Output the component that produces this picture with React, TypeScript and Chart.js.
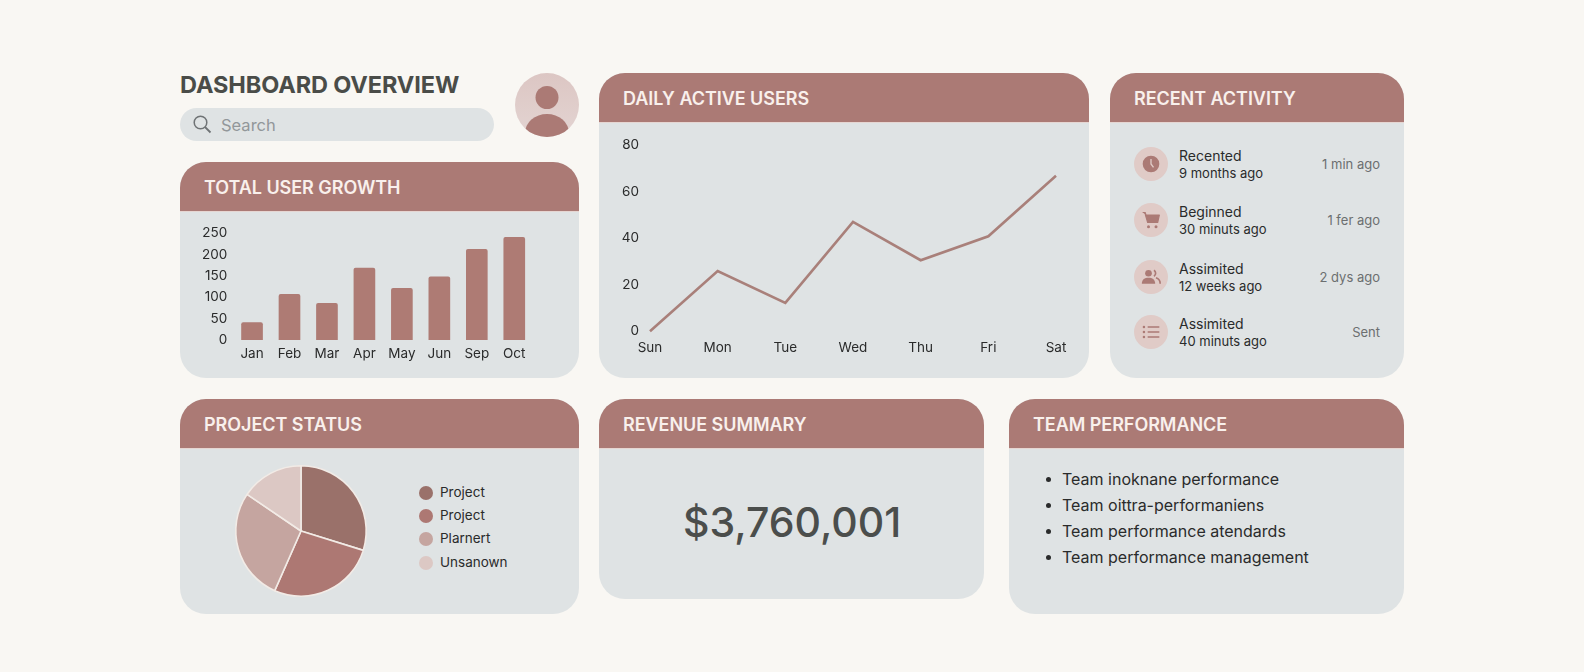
import { useEffect, useRef, type CSSProperties, type ReactNode } from 'react';
import { Chart, registerables } from 'chart.js';

Chart.register(...registerables);

const FONT = 'Inter, "Noto Sans", sans-serif';
const ROSE = '#ab7a75';
const PANEL = '#dfe3e4';
const INK = '#2a2b2b';

const growthMonths = ['Jan', 'Feb', 'Mar', 'Apr', 'May', 'Jun', 'Sep', 'Oct'];
const growthValues = [41, 107, 86, 168, 121, 148, 212, 240];

const activeDays = ['Sun', 'Mon', 'Tue', 'Wed', 'Thu', 'Fri', 'Sat'];
const activeValues = [0, 25.9, 12.2, 47, 30.5, 40.8, 66.8];

const statusLabels = ['Project', 'Project', 'Plarnert', 'Unsanown'];
const statusValues = [29.8, 26.8, 27.9, 15.5];
const statusColors = ['#9a716a', '#ad7873', '#c5a5a0', '#dcc8c4'];

const activityTitles = ['Recented', 'Beginned', 'Assimited', 'Assimited'];
const activityAges = ['9 months ago', '30 minuts ago', '12 weeks ago', '40 minuts ago'];
const activityNotes = ['1 min ago', '1 fer ago', '2 dys ago', 'Sent'];

const teamItems = [
  'Team inoknane performance',
  'Team oittra-performaniens',
  'Team performance atendards',
  'Team performance management',
];

function Label({ x, y, size, color = INK, weight = 400, right, spacing, children }: {
  x: number; y: number; size: number; color?: string; weight?: number; right?: boolean; spacing?: number; children: ReactNode;
}) {
  const style: CSSProperties = {
    position: 'absolute',
    top: y,
    fontSize: size,
    fontWeight: weight,
    color,
    letterSpacing: spacing,
    lineHeight: 1,
    whiteSpace: 'nowrap',
    transform: 'translateY(-50%)',
  };
  if (right) style.right = 1584 - x;
  else style.left = x;
  return <div style={style}>{children}</div>;
}

function Card({ x, y, w, h, title }: { x: number; y: number; w: number; h: number; title: string }) {
  return (
    <>
      <div style={{ position: 'absolute', left: x, top: y, width: w, height: h, background: PANEL, borderRadius: 26, overflow: 'hidden' }}>
        <div style={{ height: 49, background: ROSE, borderBottom: '1px solid #e6d6d2' }} />
      </div>
      <Label x={x + 24} y={y + 26} size={18} weight={600} color="#f9f0ec" spacing={-0.05}>{title}</Label>
    </>
  );
}

function useChart(build: (canvas: HTMLCanvasElement) => Chart) {
  const ref = useRef<HTMLCanvasElement>(null);
  useEffect(() => {
    if (!ref.current) return;
    const chart = build(ref.current);
    return () => chart.destroy();
  }, []);
  return ref;
}

function Box({ x, y, w, h, canvasRef }: { x: number; y: number; w: number; h: number; canvasRef: React.RefObject<HTMLCanvasElement | null> }) {
  return (
    <div style={{ position: 'absolute', left: x, top: y, width: w, height: h }}>
      <canvas ref={canvasRef} />
    </div>
  );
}

function GrowthChart() {
  const ref = useChart((canvas) => new Chart(canvas, {
    type: 'bar',
    data: {
      labels: growthMonths,
      datasets: [{ data: growthValues, backgroundColor: '#ae7b74', barThickness: 21, borderRadius: 2 }],
    },
    options: {
      animation: false,
      responsive: true,
      maintainAspectRatio: false,
      layout: { padding: { top: 7, right: 7 } },
      plugins: { legend: { display: false }, tooltip: { enabled: false } },
      scales: {
        x: {
          grid: { display: false, drawTicks: false },
          border: { display: false },
          ticks: { color: INK, padding: 6, maxRotation: 0, font: { family: FONT, size: 13.5 } },
          afterFit: (s: any) => { s.height = 28; },
        },
        y: {
          min: 0,
          max: 250,
          grid: { display: false, drawTicks: false },
          border: { display: false },
          ticks: { stepSize: 50, color: INK, padding: 6, font: { family: FONT, size: 13.5 } },
          afterFit: (s: any) => { s.width = 43.3; },
        },
      },
    },
  }));
  return <Box x={190} y={219} w={350} h={149} canvasRef={ref} />;
}

function ActiveChart() {
  const ref = useChart((canvas) => new Chart(canvas, {
    type: 'line',
    data: {
      labels: activeDays,
      datasets: [{ data: activeValues, borderColor: '#a9807a', borderWidth: 2.6, pointRadius: 0, tension: 0, clip: false }],
    },
    options: {
      animation: false,
      responsive: true,
      maintainAspectRatio: false,
      layout: { padding: { top: 10, right: 29 } },
      plugins: { legend: { display: false }, tooltip: { enabled: false } },
      scales: {
        x: {
          grid: { display: false, drawTicks: false },
          border: { display: false },
          ticks: { color: INK, padding: 9, maxRotation: 0, font: { family: FONT, size: 13.5 } },
          afterFit: (s: any) => { s.height = 34.3; },
        },
        y: {
          min: 0,
          max: 80,
          grid: { display: false, drawTicks: false },
          border: { display: false },
          ticks: { stepSize: 20, color: INK, padding: 11, font: { family: FONT, size: 13.5 } },
          afterFit: (s: any) => { s.width = 45; },
        },
      },
    },
  }));
  return <Box x={605} y={125.5} w={480} h={239.5} canvasRef={ref} />;
}

function StatusChart() {
  const ref = useChart((canvas) => new Chart(canvas, {
    type: 'pie',
    data: {
      labels: statusLabels,
      datasets: [{ data: statusValues, backgroundColor: statusColors, borderColor: '#f2ebe6', borderWidth: 1.6 }],
    },
    options: {
      animation: false,
      responsive: true,
      maintainAspectRatio: false,
      layout: { padding: 4 },
      plugins: { legend: { display: false }, tooltip: { enabled: false } },
    },
  }));
  return <Box x={231} y={460.5} w={140} h={140} canvasRef={ref} />;
}

const iconColor = '#ab7a75';
const activityIcons = [
  <>
    <circle cx="12" cy="12" r="10" fill={iconColor} />
    <path d="M12 6v6l3 4" fill="none" stroke="#e0cbc7" strokeWidth="1.6" />
  </>,
  <>
    <path d="M2 3h3l1 3h16l-2 9H8L5 5" fill={iconColor} stroke={iconColor} strokeWidth="1.4" strokeLinejoin="round" />
    <circle cx="9" cy="20" r="1.8" fill={iconColor} />
    <circle cx="18" cy="20" r="1.8" fill={iconColor} />
  </>,
  <>
    <circle cx="9" cy="7.5" r="4" fill={iconColor} />
    <path d="M1 20c0-5 3.5-7 8-7s8 2 8 7z" fill={iconColor} />
    <path d="M15.5 4a4 4 0 0 1 0 7M18 13c3 1 5 3 5 7" fill="none" stroke={iconColor} strokeWidth="2" />
  </>,
  <>
    <path d="M8 6h14M8 12h14M8 18h14" stroke={iconColor} strokeWidth="1.6" />
    <circle cx="3.5" cy="6" r="1.5" fill={iconColor} />
    <circle cx="3.5" cy="12" r="1.5" fill={iconColor} />
    <circle cx="3.5" cy="18" r="1.5" fill={iconColor} />
  </>,
];

const activityRows = [164, 220, 276.5, 332];
const legendRows = [493, 516, 539, 563];
const teamRows = [479, 505, 531, 557];

export default function App() {
  return (
    <div style={{ position: 'absolute', left: 0, top: 0, width: 1584, height: 672, overflow: 'hidden', background: '#f9f7f3', fontFamily: FONT }}>
      <Label x={180} y={84.5} size={23.5} weight={700} color="#4a4c48" spacing={-0.1}>DASHBOARD OVERVIEW</Label>

      <div style={{ position: 'absolute', left: 180, top: 108, width: 314, height: 33, borderRadius: 17, background: PANEL }} />
      <svg style={{ position: 'absolute', left: 192, top: 114 }} width="20" height="20" viewBox="0 0 20 20">
        <circle cx="8.5" cy="8.5" r="6.3" fill="none" stroke="#6f7375" strokeWidth="1.5" />
        <path d="M13 13l5.5 5.5" stroke="#6f7375" strokeWidth="1.8" />
      </svg>
      <Label x={221} y={124.5} size={16.5} color="#92979a">Search</Label>

      <svg style={{ position: 'absolute', left: 515, top: 73 }} width="64" height="64" viewBox="0 0 64 64">
        <defs>
          <linearGradient id="avatarBg" x1="0" y1="0" x2="0" y2="1">
            <stop offset="0" stopColor="#dcc6c3" />
            <stop offset="1" stopColor="#e3d4d2" />
          </linearGradient>
          <clipPath id="avatarClip"><circle cx="32" cy="32" r="32" /></clipPath>
        </defs>
        <circle cx="32" cy="32" r="32" fill="url(#avatarBg)" />
        <g clipPath="url(#avatarClip)">
          <circle cx="32" cy="24.5" r="11.5" fill={ROSE} />
          <ellipse cx="32" cy="60" rx="22" ry="19" fill={ROSE} />
        </g>
      </svg>

      <Card x={180} y={162} w={399} h={216} title="TOTAL USER GROWTH" />
      <Card x={599} y={73} w={490} h={305} title="DAILY ACTIVE USERS" />
      <Card x={1110} y={73} w={294} h={305} title="RECENT ACTIVITY" />
      <Card x={180} y={399} w={399} h={215} title="PROJECT STATUS" />
      <Card x={599} y={399} w={385} h={200} title="REVENUE SUMMARY" />
      <Card x={1009} y={399} w={395} h={215} title="TEAM PERFORMANCE" />

      <GrowthChart />
      <ActiveChart />
      <StatusChart />

      {statusLabels.map((label, i) => (
        <div key={i}>
          <div style={{ position: 'absolute', left: 419, top: legendRows[i] - 7, width: 14, height: 14, borderRadius: 7, background: statusColors[i] }} />
          <Label x={440} y={legendRows[i]} size={13.5}>{label}</Label>
        </div>
      ))}

      {activityTitles.map((title, i) => (
        <div key={i}>
          <div style={{ position: 'absolute', left: 1134, top: activityRows[i] - 17, width: 34, height: 34, borderRadius: 17, background: '#e0cbc7' }} />
          <svg style={{ position: 'absolute', left: 1141, top: activityRows[i] - 10 }} width="20" height="20" viewBox="0 0 24 24">
            {activityIcons[i]}
          </svg>
          <Label x={1179} y={activityRows[i] - 8} size={14}>{title}</Label>
          <Label x={1179} y={activityRows[i] + 9} size={13}>{activityAges[i]}</Label>
          <Label x={1380} y={activityRows[i]} size={13} color="#6c6f70" right>{activityNotes[i]}</Label>
        </div>
      ))}

      <Label x={683} y={522} size={41} weight={500} color="#4b4e4c">$3,760,001</Label>

      {teamItems.map((item, i) => (
        <div key={i}>
          <div style={{ position: 'absolute', left: 1045.5, top: teamRows[i] - 2.5, width: 5, height: 5, borderRadius: 3, background: INK }} />
          <Label x={1062} y={teamRows[i]} size={16}>{item}</Label>
        </div>
      ))}
    </div>
  );
}
